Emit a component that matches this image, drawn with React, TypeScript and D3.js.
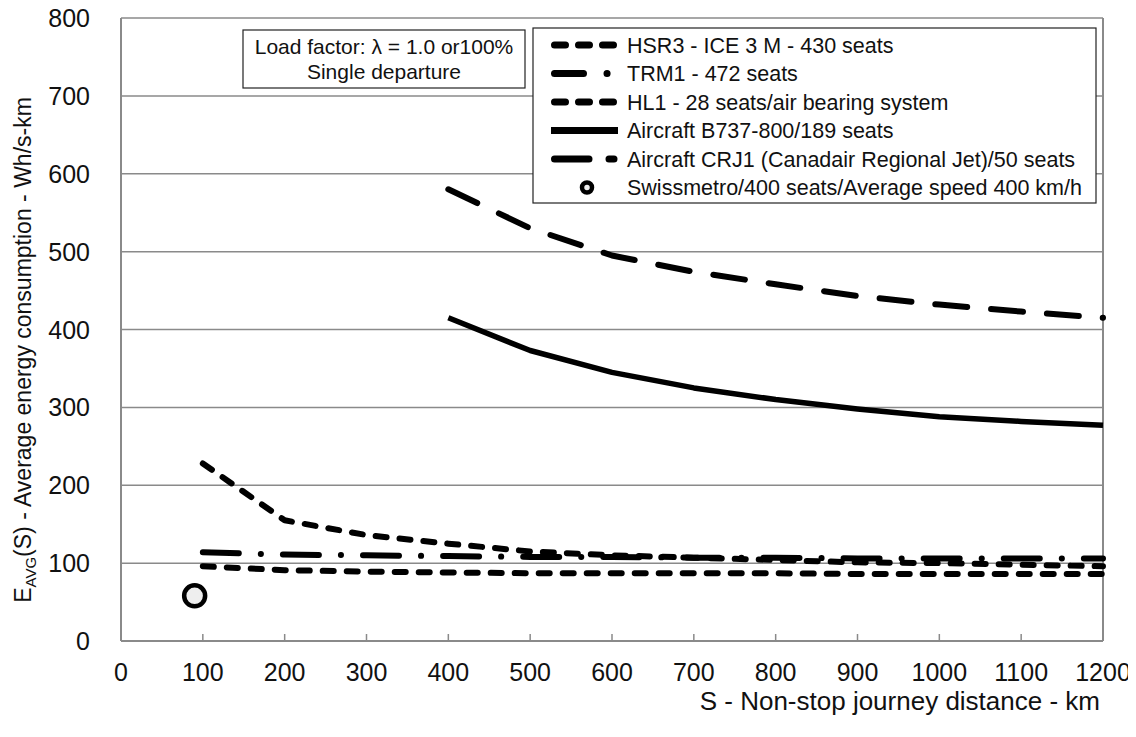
import React from "react";
import * as d3 from "d3";

// Non-stop journey distance (km)
const railDistances = [100, 200, 300, 400, 500, 600, 700, 800, 900, 1000, 1100, 1200];
const airDistances = [400, 500, 600, 700, 800, 900, 1000, 1100, 1200];

// Average energy consumption (Wh/s-km)
const hsr3Values = [96, 91, 89, 88, 87, 87, 87, 87, 86, 86, 86, 86];
const trm1Values = [114, 111, 110, 109, 108, 108, 107, 107, 106, 106, 106, 106];
const hl1Values = [228, 155, 136, 125, 115, 110, 107, 104, 101, 100, 98, 96];
const b737Values = [415, 373, 345, 325, 310, 298, 288, 282, 277];
const crj1Values = [580, 530, 495, 474, 458, 443, 432, 423, 415];
const swissmetroPoint = { distance: 90, energy: 58 };

const xTicks = [0, 100, 200, 300, 400, 500, 600, 700, 800, 900, 1000, 1100, 1200];
const yTicks = [0, 100, 200, 300, 400, 500, 600, 700, 800];

const legendLabels = [
  "HSR3 - ICE 3 M - 430 seats",
  "TRM1 - 472 seats",
  "HL1 - 28 seats/air bearing system",
  "Aircraft B737-800/189 seats",
  "Aircraft CRJ1 (Canadair Regional Jet)/50 seats",
  "Swissmetro/400 seats/Average speed 400 km/h",
];

const W = 1136;
const H = 737;
const left = 121;
const right = 1103;
const top = 18;
const bottom = 641;
const FONT = "'Liberation Sans', Arial, Helvetica, sans-serif";

type Style = { width: number; dash: string };
const styles: Style[] = [
  { width: 6, dash: "11 13" },
  { width: 6, dash: "36 22 0.1 22" },
  { width: 6, dash: "11 13" },
  { width: 5.5, dash: "" },
  { width: 6, dash: "32 24" },
];
const legendDash: string[] = ["11 13", "29 23.5 0.1 100", "11 13", "", "34.5 20 7 100"];

export default function App() {
  const x = d3.scaleLinear().domain([0, 1200]).range([left, right]);
  const y = d3.scaleLinear().domain([0, 800]).range([bottom, top]);

  const line = d3
    .line<[number, number]>()
    .x((d) => x(d[0]))
    .y((d) => y(d[1]));

  const series: [number, number][][] = [
    railDistances.map((d, i) => [d, hsr3Values[i]]),
    railDistances.map((d, i) => [d, trm1Values[i]]),
    railDistances.map((d, i) => [d, hl1Values[i]]),
    airDistances.map((d, i) => [d, b737Values[i]]),
    airDistances.map((d, i) => [d, crj1Values[i]]),
  ];

  const grid = "#8a8a8a";
  const legendX = 533;
  const legendY = 28;
  const rowH = 28.5;

  return (
    <svg width={W} height={H} style={{ display: "block", margin: "-8px" }} fontFamily={FONT}>
      <rect width={W} height={H} fill="#fff" />
      {/* horizontal gridlines */}
      {yTicks.map((t) => (
        <line key={t} x1={left} x2={right} y1={y(t)} y2={y(t)} stroke={grid} strokeWidth={1.5} />
      ))}
      {/* frame */}
      <line x1={left} x2={left} y1={top} y2={bottom} stroke={grid} strokeWidth={2} />
      <line x1={right} x2={right} y1={top} y2={bottom} stroke={grid} strokeWidth={2} />
      <line x1={left} x2={right} y1={bottom} y2={bottom} stroke={grid} strokeWidth={2} />
      {xTicks.map((t) => (
        <line key={t} x1={x(t)} x2={x(t)} y1={bottom} y2={bottom - 7} stroke={grid} strokeWidth={1.5} />
      ))}
      {/* tick labels */}
      {yTicks.map((t) => (
        <text key={t} x={90} y={y(t)} dy="0.36em" textAnchor="end" fontSize={25} fill="#111">
          {t}
        </text>
      ))}
      {xTicks.map((t) => (
        <text key={t} x={x(t)} y={681} textAnchor="middle" fontSize={25} fill="#111">
          {t}
        </text>
      ))}
      {/* axis titles */}
      <text x={1100} y={710} textAnchor="end" fontSize={26} fill="#111">
        S - Non-stop journey distance - km
      </text>
      <text transform={`translate(31,350) rotate(-90)`} textAnchor="middle" fontSize={23} fill="#111">
        E<tspan fontSize={15} dy={5}>AVG</tspan>
        <tspan dy={-5}>(S) - Average energy consumption - Wh/s-km</tspan>
      </text>

      {/* series */}
      {series.map((s, i) => (
        <path
          key={i}
          d={line(s) ?? ""}
          fill="none"
          stroke="#000"
          strokeWidth={styles[i].width}
          strokeDasharray={styles[i].dash || undefined}
          strokeLinecap={styles[i].dash ? "round" : "butt"}
          strokeLinejoin="round"
        />
      ))}
      <circle
        cx={x(swissmetroPoint.distance)}
        cy={y(swissmetroPoint.energy)}
        r={10.5}
        fill="#eeeeee"
        stroke="#000"
        strokeWidth={4.5}
      />

      {/* annotation box */}
      <rect x={243} y={30} width={282} height={58} fill="#fff" stroke="#222" strokeWidth={1.2} />
      <text x={384} y={54} textAnchor="middle" fontSize={21} fill="#111">
        Load factor: λ = 1.0 or100%
      </text>
      <text x={384} y={79} textAnchor="middle" fontSize={21} fill="#111">
        Single departure
      </text>

      {/* legend */}
      <rect x={legendX} y={legendY} width={563} height={175} fill="#fff" stroke="#222" strokeWidth={1.2} />
      {legendLabels.map((label, i) => {
        const cy = legendY + 17 + i * rowH;
        return (
          <g key={label}>
            {i < 5 ? (
              <line
                x1={legendDash[i] ? 554.5 : 551}
                x2={legendDash[i] ? 614 : 618}
                y1={cy}
                y2={cy}
                stroke="#000"
                strokeWidth={7}
                strokeDasharray={legendDash[i] || undefined}
                strokeLinecap={legendDash[i] ? "round" : "butt"}
              />
            ) : (
              <circle cx={587} cy={cy} r={5} fill="#eee" stroke="#000" strokeWidth={4.5} />
            )}
            <text x={627} y={cy} dy="0.36em" fontSize={21.5} fill="#111">
              {label}
            </text>
          </g>
        );
      })}
    </svg>
  );
}
